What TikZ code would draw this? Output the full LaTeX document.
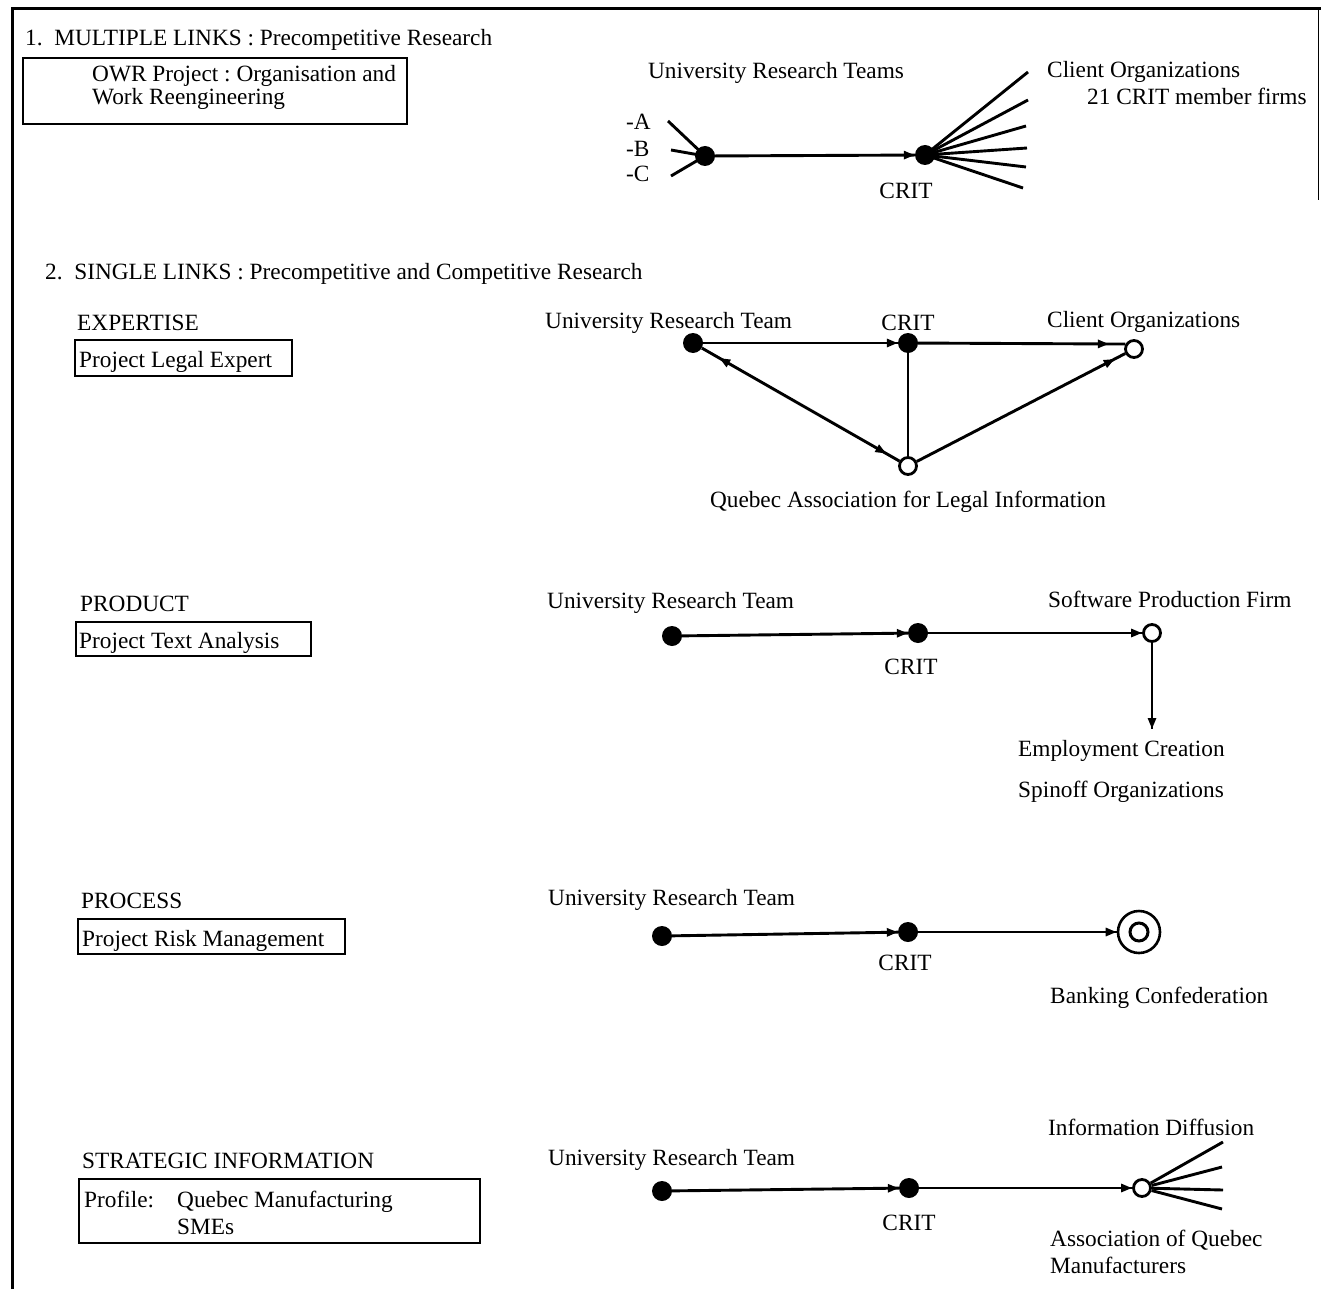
\documentclass[tikz,border=0pt]{standalone}
\usepackage{fontspec}
\setmainfont{Liberation Serif}
\frenchspacing
\usetikzlibrary{arrows.meta,decorations.markings,calc}
\begin{document}
\begin{tikzpicture}[x=1pt,y=-1pt,
  txt/.style={anchor=base west,inner sep=0pt,font=\fontsize{23.3}{27}\selectfont},
  ctxt/.style={anchor=base,inner sep=0pt,font=\fontsize{23.3}{27}\selectfont},
  dot/.style={circle,fill=black,minimum size=20pt,inner sep=0pt},
  odot/.style={circle,draw=black,line width=2.8pt,fill=white,minimum size=17pt,inner sep=0pt},
  conn/.style={line width=2.9pt},
  tipend/.style={conn,postaction={decorate},decoration={markings,mark=at position 1 with {\arrow{Triangle[length=11pt,width=8pt]}}}},
  tipat/.style={conn,postaction={decorate},decoration={markings,mark=at position #1 with {\arrow{Triangle[length=11pt,width=8pt]}}}},
  box/.style={draw=black,line width=2.4pt},
]
\useasboundingbox (0,0) rectangle (1321,1289);
% frame
\draw[line width=3pt] (12,1289) -- (12,9) -- (1321,9);
\draw[line width=1pt] (1318,9) -- (1318,200);

% ---------------- Section 1
\node[txt] (t1) at (25,46) {1.\ \ MULTIPLE LINKS : Precompetitive Research};
\draw[box] (23,58) rectangle (407,124);
\node[txt] (owr1) at (92,82) {OWR Project : Organisation and};
\node[txt] (owr2) at (92,105) {Work Reengineering};
\node[ctxt] (urts) at (776,79) {University Research Teams};
\node[txt] (la) at (626,130) {-A};
\node[txt] (lb) at (626,157) {-B};
\node[txt] (lc) at (626,182) {-C};
\node[dot] (u1) at (705,156) {};
\node[dot] (c1) at (925,155) {};
\node[ctxt] (crit1) at (906,199) {CRIT};
\node[txt] (cli1) at (1047,78) {Client Organizations};
\node[txt] (mem1) at (1087,105) {21 CRIT member firms};
\coordinate (a1) at (668,121);
\coordinate (b1) at (671,150);
\coordinate (cc1) at (671,176);
\draw[conn] (a1) -- (u1.center);
\draw[conn] (b1) -- (u1.center);
\draw[conn] (cc1) -- (u1.center);
\draw[tipend] (u1) -- (c1);
\coordinate (f1) at (1028,72);
\coordinate (f2) at (1028,100);
\coordinate (f3) at (1026,126);
\coordinate (f4) at (1027,148);
\coordinate (f5) at (1026,167);
\coordinate (f6) at (1023,188);
\draw[conn] (c1.center) -- (f1);
\draw[conn] (c1.center) -- (f2);
\draw[conn] (c1.center) -- (f3);
\draw[conn] (c1.center) -- (f4);
\draw[conn] (c1.center) -- (f5);
\draw[conn] (c1.center) -- (f6);

% ---------------- Section 2
\node[txt] (t2) at (45,279) {2.\ \ SINGLE LINKS : Precompetitive and Competitive Research};

% EXPERTISE
\node[txt] (exp) at (77,330) {EXPERTISE};
\draw[box] (75,340) rectangle (292,376);
\node[txt] (ple) at (79,367) {Project Legal Expert};
\node[txt] (urt2) at (545,328) {University Research Team};
\node[ctxt] (crit2) at (908,330) {CRIT};
\node[txt] (cli2) at (1047,327) {Client Organizations};
\node[dot] (u2) at (693,343) {};
\node[dot] (c2) at (908,343) {};
\node[odot] (o2) at (1134,349) {};
\node[odot] (q2) at (908,466) {};
\node[ctxt] (qali) at (908,507) {Quebec Association for Legal Information};
\draw[tipend] (u2) -- (c2);
\draw[tipat=0.92] (c2) -- (o2.150);
\draw[conn] (c2) -- (q2);
\draw[conn,postaction={decorate},decoration={markings,
   mark=at position 20pt with {\arrowreversed{Triangle[length=11pt,width=8pt]}},
   mark=at position -15pt with {\arrow{Triangle[length=11pt,width=8pt]}}}] (u2) -- (q2);
\draw[tipat=0.95] (q2) -- (o2);

% PRODUCT
\node[txt] (prod) at (80,611) {PRODUCT};
\draw[box] (76,622) rectangle (311,656);
\node[txt] (pta) at (79,648) {Project Text Analysis};
\node[txt] (urt3) at (547,608) {University Research Team};
\node[txt] (spf) at (1048,607) {Software Production Firm};
\node[dot] (u3) at (672,636) {};
\node[dot] (c3) at (918,633) {};
\node[odot] (s3) at (1152,633) {};
\node[ctxt] (crit3) at (911,674) {CRIT};
\coordinate (e3) at (1152,729);
\node[txt] (emp) at (1018,756) {Employment Creation};
\node[txt] (spin) at (1018,797) {Spinoff Organizations};
\draw[tipend] (u3) -- (c3);
\draw[tipend] (c3) -- (s3);
\draw[tipend] (s3) -- (e3);

% PROCESS
\node[txt] (proc) at (81,908) {PROCESS};
\draw[box] (78,919) rectangle (345,954);
\node[txt] (prm) at (82,946) {Project Risk Management};
\node[txt] (urt4) at (548,905) {University Research Team};
\node[dot] (u4) at (662,936) {};
\node[dot] (c4) at (908,932) {};
\node[circle,draw=black,line width=2.6pt,minimum size=42pt,inner sep=0pt] (b4) at (1139,932) {};
\node[circle,draw=black,line width=3pt,minimum size=18pt,inner sep=0pt] (b4in) at (1139,932) {};
\node[ctxt] (crit4) at (905,970) {CRIT};
\node[txt] (bank) at (1050,1003) {Banking Confederation};
\draw[tipend] (u4) -- (c4);
\draw[tipend] (c4) -- (b4);

% STRATEGIC INFORMATION
\node[txt] (strat) at (82,1168) {STRATEGIC INFORMATION};
\draw[box] (79,1179) rectangle (480,1243);
\node[txt] (prof) at (84,1207) {Profile:};
\node[txt] (qmf) at (177,1207) {Quebec Manufacturing};
\node[txt] (smes) at (177,1234) {SMEs};
\node[txt] (urt5) at (548,1165) {University Research Team};
\node[dot] (u5) at (662,1191) {};
\node[dot] (c5) at (909,1188) {};
\node[odot] (i5) at (1142,1188) {};
\node[ctxt] (crit5) at (909,1230) {CRIT};
\node[txt] (idif) at (1048,1135) {Information Diffusion};
\node[txt] (aqm1) at (1050,1246) {Association of Quebec};
\node[txt] (aqm2) at (1050,1273) {Manufacturers};
\draw[tipend] (u5) -- (c5);
\draw[tipend] (c5) -- (i5);
\coordinate (g1) at (1223,1142);
\coordinate (g2) at (1222,1167);
\coordinate (g3) at (1223,1190);
\coordinate (g4) at (1222,1209);
\draw[conn] (i5) -- (g1);
\draw[conn] (i5) -- (g2);
\draw[conn] (i5) -- (g3);
\draw[conn] (i5) -- (g4);
\end{tikzpicture}
\end{document}
